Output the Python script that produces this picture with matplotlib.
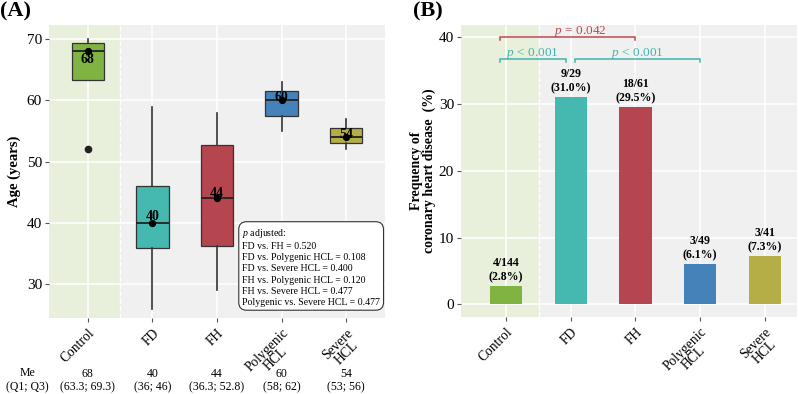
import matplotlib
matplotlib.use("Agg")
import matplotlib.pyplot as plt
from matplotlib.patches import Rectangle

plt.rcParams['font.family'] = ['Liberation Serif', 'DejaVu Serif']
plt.rcParams['mathtext.fontset'] = 'custom'
plt.rcParams['mathtext.it'] = 'Liberation Serif:italic'
plt.rcParams['mathtext.rm'] = 'Liberation Serif'
plt.rcParams['mathtext.bf'] = 'Liberation Serif:bold'

# data
groups = ["Control", "FD", "FH", "Polygenic\nHCL", "Severe\nHCL"]
colors = ["#80B341", "#45B8B0", "#B5454F", "#4682BA", "#B5AE47"]

# panel A - age
age_lo = [63.3, 26, 29, 55, 52]
age_q1 = [63.3, 36, 36.3, 57.4, 53]
age_med = [68, 40, 44, 60, 54]
age_q3 = [69.3, 46, 52.8, 61.5, 55.5]
age_hi = [70, 59, 58, 63, 57]
age_out = [[52], [], [], [], []]
me_q = ["(63.3; 69.3)", "(36; 46)", "(36.3; 52.8)", "(58; 62)", "(53; 56)"]
p_adj = [("FD vs. FH", 0.520), ("FD vs. Polygenic HCL", 0.108),
         ("FD vs. Severe HCL", 0.400), ("FH vs. Polygenic HCL", 0.120),
         ("FH vs. Severe HCL", 0.477), ("Polygenic vs. Severe HCL", 0.477)]

# panel B - coronary heart disease
chd_n = [4, 9, 18, 3, 3]
chd_total = [144, 29, 61, 49, 41]
chd_pct = [2.8, 31.0, 29.5, 6.1, 7.3]
# (group from, group to, label, bracket height, colour)
brackets = [(0, 2, "= 0.042", 40.0, "#C0454F"),
            (0, 1, "< 0.001", 36.75, "#3FB5AC"),
            (1, 3, "< 0.001", 36.75, "#3FB5AC")]

bg = "#F0F0F0"
xs = list(range(1, len(groups) + 1))

fig = plt.figure(figsize=(7.98, 3.94), dpi=100)
axA = fig.add_axes([0.0614, 0.1929, 0.4211, 0.7437])
axB = fig.add_axes([0.5777, 0.1954, 0.4210, 0.7410])


def style_axes(ax, xlim, ylim, yticks):
    ax.set_facecolor(bg)
    ax.set_xlim(*xlim)
    ax.set_ylim(*ylim)
    ax.set_yticks(yticks)
    ax.set_xticks(xs)
    ax.set_xticklabels(groups, rotation=45, ha='right', rotation_mode='anchor',
                       multialignment='center', fontsize=9.8, linespacing=0.95)
    ax.tick_params(axis='y', labelsize=11, length=3, color='#555555', pad=2)
    ax.tick_params(axis='x', length=3, color='#555555', pad=3)
    ax.grid(True, color='white', lw=1.1, zorder=0)
    ax.set_axisbelow(True)
    for s in ax.spines.values():
        s.set_visible(False)
    ax.add_patch(Rectangle((xlim[0], ylim[0]), 1.5 - xlim[0], ylim[1] - ylim[0],
                           fc='#BBF06B', alpha=0.15, lw=0, zorder=0.5))
    ax.axvline(1.5, color='white', ls='--', lw=1, zorder=0.6)


# ---- panel A
stats = []
for i in range(len(groups)):
    stats.append(dict(med=age_med[i], q1=age_q1[i], q3=age_q3[i],
                      whislo=age_lo[i], whishi=age_hi[i], fliers=age_out[i]))
bp = axA.bxp(stats, positions=xs, widths=0.5, patch_artist=True, showcaps=False,
             manage_ticks=False,
             boxprops=dict(ec='#333333', lw=0.9),
             medianprops=dict(color='#222222', lw=1.3),
             whiskerprops=dict(color='#333333', lw=1.2),
             flierprops=dict(marker='o', mfc='#222222', mec='#222222', ms=4.5),
             zorder=2)
for patch, c in zip(bp['boxes'], colors):
    patch.set_facecolor(c)
style_axes(axA, (0.4, 5.6), (24.5, 72.3), [30, 40, 50, 60, 70])
axA.scatter(xs, age_med, s=18, color='black', zorder=3)
lab_off = [-1.4, 1.0, 0.8, 0.5, 0.5]
for x, m, off in zip(xs, age_med, lab_off):
    axA.text(x, m + off, str(m), ha='center', va='center', fontsize=10,
             fontweight='bold', zorder=4)
axA.set_ylabel("Age (years)", fontsize=10.5, fontweight='bold', labelpad=4)

ptxt = "$\\it{p}$ adjusted:\n" + "\n".join(f"{a} = {b:.3f}" for a, b in p_adj)
axA.text(0.575, 0.31, ptxt, transform=axA.transAxes, ha='left', va='top',
         fontsize=7.1, linespacing=1.3, zorder=5,
         bbox=dict(boxstyle='round,pad=0.35,rounding_size=0.8', fc='white',
                   ec='#333333', lw=0.8))

tr = axA.get_xaxis_transform()
axA.text(-0.065, -0.188, "Me", transform=axA.transAxes, ha='center', va='center', fontsize=8.5)
axA.text(-0.065, -0.235, "(Q1; Q3)", transform=axA.transAxes, ha='center', va='center', fontsize=8.5)
for x, m, q in zip(xs, age_med, me_q):
    axA.text(x, -0.19, str(m), transform=tr, ha='center', va='center', fontsize=8.5)
    axA.text(x, -0.235, q, transform=tr, ha='center', va='center', fontsize=8.5)

# ---- panel B
style_axes(axB, (0.3, 5.5), (-1.9, 41.8), [0, 10, 20, 30, 40])
axB.bar(xs, chd_pct, width=0.5, color=colors, zorder=2)
for x, n, t, p in zip(xs, chd_n, chd_total, chd_pct):
    axB.text(x, p + 0.4, f"{n}/{t}\n({p:.1f}%)", ha='center', va='bottom',
             fontsize=8.5, fontweight='bold', linespacing=1.25, zorder=4)
axB.set_ylabel("Frequency of\ncoronary heart disease  (%)", fontsize=10,
               fontweight='bold', labelpad=2, linespacing=1.0)

for a, b, lab, h, c in brackets:
    x0 = xs[a] - 0.1
    x1 = xs[b] - 0.08 if b == 1 else xs[b]
    if a == 1:
        x0 = xs[a] + 0.06
    axB.plot([x0, x0, x1, x1], [h - 0.45, h, h, h - 0.45], color=c, lw=1.1,
             zorder=4, solid_joinstyle='miter')
    xm = (x0 + x1) / 2 + (0.2 if b == 2 else 0)
    axB.text(xm, h + 0.85, "$\\it{p}$ " + lab, ha='center', va='center',
             fontsize=9.5, color=c, zorder=4)

fig.text(0.0, 0.995, "(A)", fontsize=16, fontweight='bold', ha='left', va='top')
fig.text(0.5175, 0.995, "(B)", fontsize=16, fontweight='bold', ha='left', va='top')

fig.savefig("out.png", dpi=100)
